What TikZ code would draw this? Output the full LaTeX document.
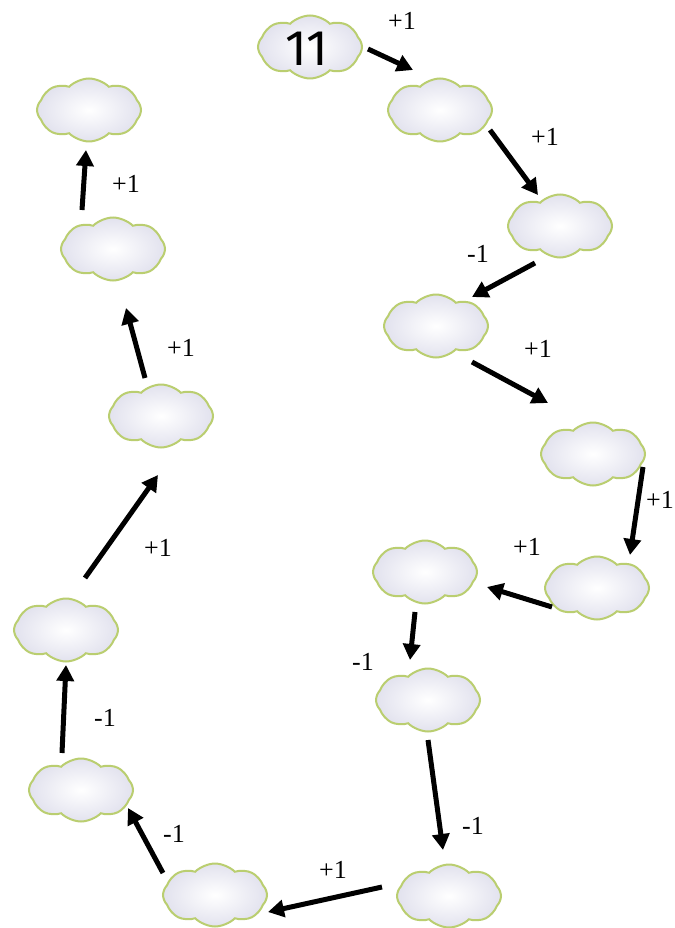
\documentclass[tikz,border=0pt]{standalone}
\usepackage{fontspec}
\setmainfont{Liberation Serif}
\newfontfamily\elevenfont{Fira Sans}
\usetikzlibrary{shapes.symbols,arrows.meta,calc}
\begin{document}
\begin{tikzpicture}[x=1pt,y=-1pt,
 cloudnode/.style={cloud, cloud puffs=8, cloud puff arc=90, aspect=1.6,
   minimum width=104pt, minimum height=63pt,
   draw={rgb,255:red,186;green,206;blue,112}, line width=2pt,
   inner color=white, outer color={rgb,255:red,226;green,226;blue,238}},
 arr/.style={line width=5pt, -{Triangle[length=16pt,width=17pt]}},
 lbl/.style={font=\fontsize{26}{28}\selectfont, inner sep=0pt}]
\useasboundingbox[fill=white] (0,0) rectangle (674,928);
% clouds
\node[cloudnode] (c1) at (310,47) {};
\node[font=\elevenfont\fontsize{50}{50}\selectfont, inner sep=0pt] (t11) at (307,49) {11};
\node[cloudnode] (c2) at (440,110) {};
\node[cloudnode] (c3) at (560,226) {};
\node[cloudnode] (c4) at (436,326) {};
\node[cloudnode] (c5) at (593,454) {};
\node[cloudnode] (c6) at (597,588) {};
\node[cloudnode] (c7) at (425,572) {};
\node[cloudnode] (c8) at (428,700) {};
\node[cloudnode] (c9) at (449,896) {};
\node[cloudnode] (c10) at (215,895) {};
\node[cloudnode] (c11) at (81,790) {};
\node[cloudnode] (c12) at (66,630) {};
\node[cloudnode] (c13) at (161,416) {};
\node[cloudnode] (c14) at (113,249) {};
\node[cloudnode] (c15) at (89,110) {};
% arrows
\draw[arr] ($(c1)+(58,2)$) -- ($(c2)+(-27,-40)$);
\draw[arr] ($(c2)+(50,20)$) -- ($(c3)+(-22,-31)$);
\draw[arr] ($(c3)+(-25,37)$) -- ($(c4)+(36,-29)$);
\draw[arr] ($(c4)+(36,36)$) -- ($(c5)+(-45,-51)$);
\draw[arr] ($(c5)+(50,13)$) -- ($(c6)+(33,-33)$);
\draw[arr] ($(c6)+(-45,19)$) -- ($(c7)+(62,15)$);
\draw[arr] ($(c7)+(-10,40)$) -- ($(c8)+(-18,-40)$);
\draw[arr] ($(c8)+(0,40)$) -- ($(c9)+(-6,-46)$);
\draw[arr] ($(c9)+(-67,-9)$) -- ($(c10)+(53,17)$);
\draw[arr] ($(c10)+(-52,-22)$) -- ($(c11)+(47,18)$);
\draw[arr] ($(c11)+(-19,-37)$) -- ($(c12)+(0,35)$);
\draw[arr] ($(c12)+(19,-52)$) -- ($(c13)+(-3,59)$);
\draw[arr] ($(c13)+(-16,-38)$) -- ($(c14)+(13,59)$);
\draw[arr] ($(c14)+(-31,-39)$) -- ($(c15)+(-3,40)$);
% labels
\node[lbl] (l1) at (402,21) {+1};
\node[lbl] (l2) at (545,137) {+1};
\node[lbl] (l3) at (478,254) {-1};
\node[lbl] (l4) at (538,349) {+1};
\node[lbl] (l5) at (660,500) {+1};
\node[lbl] (l6) at (527,547) {+1};
\node[lbl] (l7) at (363,662) {-1};
\node[lbl] (l8) at (473,826) {-1};
\node[lbl] (l9) at (333,870) {+1};
\node[lbl] (l10) at (174,834) {-1};
\node[lbl] (l11) at (105,718) {-1};
\node[lbl] (l12) at (158,548) {+1};
\node[lbl] (l13) at (181,348) {+1};
\node[lbl] (l14) at (126,184) {+1};
\end{tikzpicture}
\end{document}
